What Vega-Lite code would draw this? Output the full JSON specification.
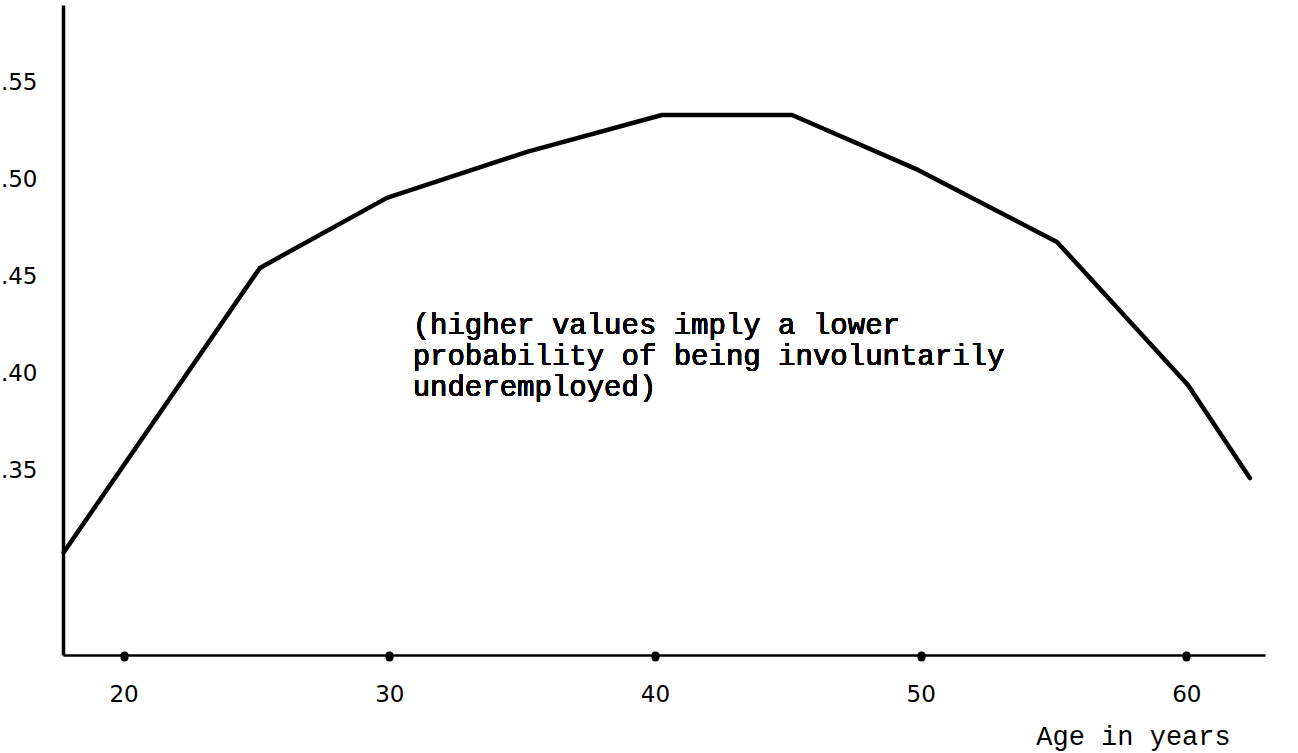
{
  "$schema": "https://vega.github.io/schema/vega-lite/v6.json",
  "width": 1202,
  "height": 650,
  "autosize": "none",
  "padding": {"left": 63, "top": 5, "right": 33, "bottom": 98},
  "background": "white",
  "config": {"view": {"stroke": null}},
  "data": {
    "values": [
      {"age": 17.75, "value": 0.308},
      {"age": 25.13, "value": 0.4545},
      {"age": 29.91, "value": 0.4906},
      {"age": 35.18, "value": 0.5143},
      {"age": 40.26, "value": 0.5333},
      {"age": 45.16, "value": 0.5333},
      {"age": 49.9, "value": 0.505},
      {"age": 55.13, "value": 0.4679},
      {"age": 60.06, "value": 0.3942},
      {"age": 62.39, "value": 0.3462}
    ]
  },
  "layer": [
    {
      "mark": {"type": "line", "color": "black", "strokeWidth": 4.5, "strokeJoin": "round", "strokeCap": "round", "clip": false},
      "encoding": {
        "x": {
          "field": "age", "type": "quantitative",
          "scale": {"domain": [17.72, 62.96], "nice": false, "zero": false},
          "axis": {
            "values": [20, 30, 40, 50, 60],
            "grid": false,
            "domainColor": "black", "domainWidth": 2.5,
            "ticks": true, "tickSize": 2, "tickWidth": 8, "tickCap": "round", "tickColor": "black",
            "labelFont": "DejaVu Sans", "labelFontSize": 23, "labelColor": "black", "labelPadding": 26,
            "title": "Age in years",
            "titleFont": "Liberation Mono", "titleFontSize": 27, "titleFontWeight": "normal", "titleColor": "black",
            "titleX": 1070, "titleY": 81, "titleAlign": "center", "titleBaseline": "middle"
          }
        },
        "y": {
          "field": "value", "type": "quantitative",
          "scale": {"domain": [0.255, 0.59], "nice": false, "zero": false},
          "axis": {
            "values": [0.35, 0.40, 0.45, 0.50, 0.55],
            "labelExpr": "replace(format(datum.value, '.2f'), '0.', '.')",
            "grid": false,
            "domainColor": "black", "domainWidth": 3.5,
            "ticks": false, "tickSize": 0,
            "labelFont": "DejaVu Sans", "labelFontSize": 23, "labelColor": "black", "labelPadding": 26,
            "title": null
          }
        }
      }
    },
    {
      "mark": {
        "type": "text",
        "text": ["(higher values imply a lower", "probability of being involuntarily", "underemployed)"],
        "font": "Liberation Mono", "fontSize": 29, "lineHeight": 31,
        "align": "left", "baseline": "top", "color": "black"
      },
      "encoding": {
        "x": {"datum": 30.88, "type": "quantitative"},
        "y": {"datum": 0.4325, "type": "quantitative"}
      }
    }
  ]
}
